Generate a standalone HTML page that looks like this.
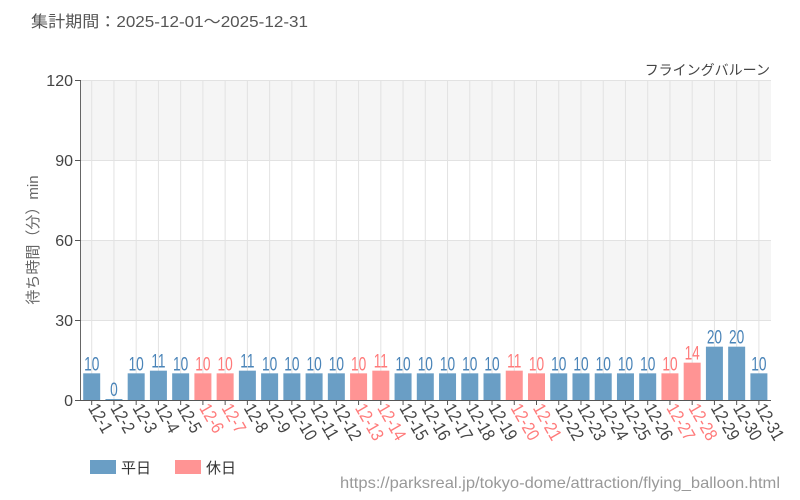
<!DOCTYPE html>
<html><head><meta charset="utf-8"><style>
body{margin:0;background:#fff;}
svg{display:block;font-family:"Liberation Sans","Noto Sans CJK JP",sans-serif;}
.v{font-size:19px;text-anchor:middle;}
</style></head><body>
<svg id="s" width="800" height="500" xmlns="http://www.w3.org/2000/svg">
<text x="31" y="27" font-size="16" fill="#555" textLength="277" lengthAdjust="spacingAndGlyphs">集計期間：2025-12-01～2025-12-31</text>
<text x="770" y="75" font-size="14" fill="#444" text-anchor="end">フライングバルーン</text>
<rect x="81" y="80" width="690" height="80" fill="#f5f5f5"/>
<rect x="81" y="240" width="690" height="80" fill="#f5f5f5"/>
<g stroke="#e2e2e2" stroke-width="1">
<line x1="81" y1="80.5" x2="771" y2="80.5"/><line x1="81" y1="160.5" x2="771" y2="160.5"/><line x1="81" y1="240.5" x2="771" y2="240.5"/><line x1="81" y1="320.5" x2="771" y2="320.5"/>
</g>
<g id="grid" stroke="#e2e2e2" stroke-width="1"></g>
<g id="bars"></g>
<line x1="80.5" y1="80" x2="80.5" y2="400" stroke="#666"/>
<line x1="80" y1="400.5" x2="771" y2="400.5" stroke="#555"/>
<g stroke="#555"><line x1="75" y1="80.5" x2="81" y2="80.5"/><line x1="75" y1="160.5" x2="81" y2="160.5"/><line x1="75" y1="240.5" x2="81" y2="240.5"/><line x1="75" y1="320.5" x2="81" y2="320.5"/><line x1="75" y1="400.5" x2="81" y2="400.5"/></g>
<g font-size="16" fill="#444" text-anchor="end">
<text x="73" y="86">120</text><text x="73" y="166">90</text><text x="73" y="246">60</text><text x="73" y="326">30</text><text x="73" y="406">0</text>
</g>
<text transform="translate(38,240) rotate(-90)" font-size="15" fill="#666" text-anchor="middle">待ち時間（分）min</text>
<g id="labels"></g>
<rect x="90" y="460" width="26" height="14" fill="#6a9ec5"/>
<text x="121" y="473" font-size="15" fill="#333">平日</text>
<rect x="175" y="460" width="26" height="14" fill="#ff9494"/>
<text x="206" y="473" font-size="15" fill="#333">休日</text>
<text x="340" y="488" font-size="16" fill="#999" textLength="440" lengthAdjust="spacingAndGlyphs">https://parksreal.jp/tokyo-dome/attraction/flying_balloon.html</text>
</svg>
<script>
var v=[10,0,10,11,10,10,10,11,10,10,10,10,10,11,10,10,10,10,10,11,10,10,10,10,10,10,10,14,20,20,10];
var hol=[6,7,13,14,20,21,27,28];
var g=document.getElementById('grid'),b=document.getElementById('bars'),l=document.getElementById('labels');
var h='',gh='',lh='';
for(var i=0;i<31;i++){
 var cx=91.7+i*22.24,d=i+1,isH=hol.indexOf(d)>=0;
 gh+='<line x1="'+cx+'" y1="80" x2="'+cx+'" y2="400"/>';
 var bh=Math.max(v[i]*320/120,1),y=400-bh;
 h+='<rect x="'+(cx-8.5)+'" y="'+y+'" width="17" height="'+bh+'" fill="'+(isH?'#ff9494':'#6a9ec5')+'"/>';
 h+='<line x1="'+cx+'" y1="400" x2="'+cx+'" y2="405" stroke="#555"/>';
 h+='<text class="v" transform="translate('+cx+','+(y-3)+') scale(0.72,1)" fill="'+(isH?'#ff7a7a':'#4a84b8')+'">'+v[i]+'</text>';
 lh+='<text transform="translate('+(cx-4)+',408) rotate(60) scale(0.9,1.05)" font-size="17" fill="'+(isH?'#ff7a7a':'#444')+'">12-'+d+'</text>';
}
g.innerHTML=gh;b.innerHTML=h;l.innerHTML=lh;
</script>
</body></html>
